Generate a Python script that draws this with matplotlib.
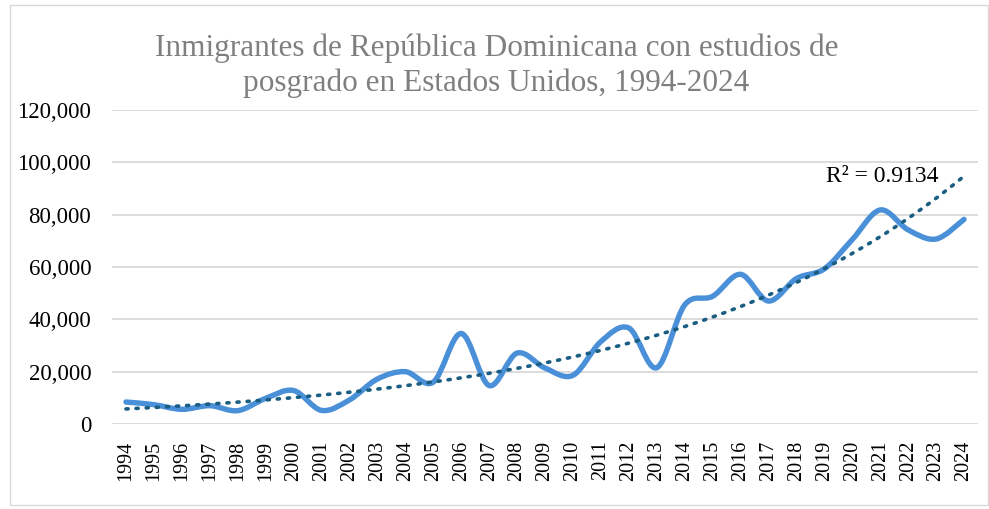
import numpy as np
import matplotlib
matplotlib.use("Agg")
import matplotlib.pyplot as plt
from matplotlib.path import Path
from matplotlib.patches import PathPatch, Rectangle

years = list(range(1994, 2025))
values = [8400, 7400, 5600, 7000, 5100, 9800, 12800, 5200, 9200, 17200,
          20000, 16000, 34600, 14700, 27100, 21400, 18600, 31500, 36700, 21500,
          45500, 48800, 57200, 47000, 55600, 59300, 70500, 81800, 74200, 70700,
          78200]
r2_label = "R² = 0.9134"
title = "Inmigrantes de República Dominicana con estudios de\nposgrado en Estados Unidos, 1994-2024"
yticks = [0, 20000, 40000, 60000, 80000, 100000, 120000]

plt.rcParams['font.family'] = ['Liberation Serif', 'DejaVu Serif']

fig = plt.figure(figsize=(9.89, 5.09), dpi=100)
fig.patches.append(Rectangle((10/989, 4/509), 978/989, 500/509, transform=fig.transFigure,
                             fill=False, edgecolor='#d9d9d9', linewidth=1.0))
ax = fig.add_axes([112/989, 85/509, 866/989, 314/509])

x = np.arange(len(years), dtype=float)
y = np.array(values, dtype=float)

# smoothed line (Catmull-Rom style Bezier, like Excel smoothing)
verts = [(x[0], y[0])]
codes = [Path.MOVETO]
n = len(x)
t = 1/6
for i in range(n - 1):
    p0 = np.array([x[max(i-1, 0)], y[max(i-1, 0)]])
    p1 = np.array([x[i], y[i]])
    p2 = np.array([x[i+1], y[i+1]])
    p3 = np.array([x[min(i+2, n-1)], y[min(i+2, n-1)]])
    c1 = p1 + (p2 - p0) * t
    c2 = p2 - (p3 - p1) * t
    verts += [tuple(c1), tuple(c2), tuple(p2)]
    codes += [Path.CURVE4] * 3
ax.add_patch(PathPatch(Path(verts, codes), facecolor='none', edgecolor='#4a90d9',
                       linewidth=3.9, capstyle='round', joinstyle='round', zorder=3))

# exponential trendline
b, a = np.polyfit(x, np.log(y), 1)
xt = np.linspace(0, n-1, 200)
ax.plot(xt, np.exp(a + b*xt), linestyle=(0, (0.6, 2.2)), color='#1b5e83',
        linewidth=2.6, dash_capstyle='round', zorder=4)

ax.text(29.1, 94500, r2_label, ha='right', va='center', fontsize=17, color='#000000')

ax.set_xlim(-0.5, n - 0.5)
ax.set_ylim(0, 120000)
ax.set_yticks(yticks)
ax.set_yticklabels([f"{v:,}" for v in yticks], fontsize=16.5)
ax.set_xticks(x)
ax.set_xticklabels([str(v) for v in years], rotation=90, fontsize=14.5)
ax.tick_params(axis='y', length=0, pad=15)
ax.tick_params(axis='x', length=0, pad=12)
ax.grid(axis='y', color='#d9d9d9', linewidth=1.3)
ax.set_axisbelow(True)
for s in ax.spines.values():
    s.set_visible(False)

fig.text(0.502, 0.871, title, ha='center', va='center', fontsize=22.5, color='#7f7f7f',
         linespacing=1.27)

fig.savefig("out.png", dpi=100)
